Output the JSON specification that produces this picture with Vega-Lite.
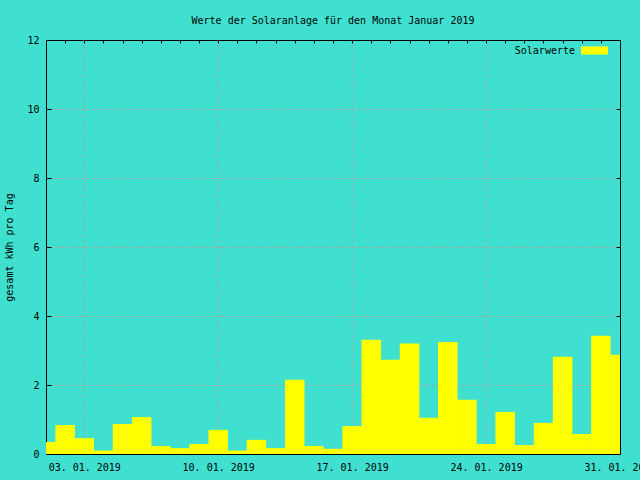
{
  "$schema": "https://vega.github.io/schema/vega-lite/v6.json",
  "width": 574,
  "height": 414,
  "autosize": {"type": "none"},
  "padding": {"left": 46, "top": 40, "right": 20, "bottom": 26},
  "background": "#40e0d0",
  "title": {
    "text": "Werte der Solaranlage für den Monat Januar 2019",
    "font": "DejaVu Sans Mono",
    "fontSize": 10,
    "fontWeight": "normal",
    "color": "black",
    "anchor": "middle",
    "frame": "group",
    "baseline": "bottom",
    "offset": -1
  },
  "config": {
    "view": {"stroke": "black", "strokeWidth": 1, "fill": "#40e0d0"},
    "axis": {
      "labelFont": "DejaVu Sans Mono",
      "labelFontSize": 10,
      "labelColor": "black",
      "titleFont": "DejaVu Sans Mono",
      "titleFontSize": 10,
      "titleFontWeight": "normal",
      "titleColor": "black",
      "domain": false,
      "tickColor": "black",
      "tickWidth": 1,
      "gridColor": "#d08c96",
      "gridDash": [2, 3],
      "gridWidth": 1,
      "gridOpacity": 1
    },
    "legend": {
      "labelFont": "DejaVu Sans Mono",
      "labelFontSize": 10,
      "labelColor": "black"
    }
  },
  "data": {
    "values": [
      {"tag": "2019-01-01", "kwh": 0.35},
      {"tag": "2019-01-02", "kwh": 0.84},
      {"tag": "2019-01-03", "kwh": 0.46},
      {"tag": "2019-01-04", "kwh": 0.10},
      {"tag": "2019-01-05", "kwh": 0.87},
      {"tag": "2019-01-06", "kwh": 1.07},
      {"tag": "2019-01-07", "kwh": 0.23},
      {"tag": "2019-01-08", "kwh": 0.17},
      {"tag": "2019-01-09", "kwh": 0.29},
      {"tag": "2019-01-10", "kwh": 0.70},
      {"tag": "2019-01-11", "kwh": 0.10},
      {"tag": "2019-01-12", "kwh": 0.41},
      {"tag": "2019-01-13", "kwh": 0.17},
      {"tag": "2019-01-14", "kwh": 2.15},
      {"tag": "2019-01-15", "kwh": 0.23},
      {"tag": "2019-01-16", "kwh": 0.15},
      {"tag": "2019-01-17", "kwh": 0.81},
      {"tag": "2019-01-18", "kwh": 3.31},
      {"tag": "2019-01-19", "kwh": 2.73},
      {"tag": "2019-01-20", "kwh": 3.20},
      {"tag": "2019-01-21", "kwh": 1.05},
      {"tag": "2019-01-22", "kwh": 3.25},
      {"tag": "2019-01-23", "kwh": 1.57},
      {"tag": "2019-01-24", "kwh": 0.29},
      {"tag": "2019-01-25", "kwh": 1.22},
      {"tag": "2019-01-26", "kwh": 0.26},
      {"tag": "2019-01-27", "kwh": 0.90},
      {"tag": "2019-01-28", "kwh": 2.82},
      {"tag": "2019-01-29", "kwh": 0.58},
      {"tag": "2019-01-30", "kwh": 3.43},
      {"tag": "2019-01-31", "kwh": 2.88}
    ]
  },
  "resolve": {"axis": {"x": "independent", "y": "independent"}},
  "layer": [
    {
      "mark": {"type": "rule", "opacity": 0},
      "encoding": {
        "x": {
          "field": "tag",
          "type": "temporal",
          "axis": {
            "orient": "bottom",
            "title": null,
            "labels": false,
            "ticks": false,
            "grid": true,
            "translate": 0.24,
            "values": [
              {"year": 2019, "month": 1, "date": 3, "utc": true},
              {"year": 2019, "month": 1, "date": 10, "utc": true},
              {"year": 2019, "month": 1, "date": 17, "utc": true},
              {"year": 2019, "month": 1, "date": 24, "utc": true}
            ]
          }
        },
        "y": {
          "field": "kwh",
          "type": "quantitative",
          "axis": {
            "orient": "left",
            "title": null,
            "labels": false,
            "ticks": false,
            "grid": true,
            "values": [2, 4, 6, 8, 10]
          }
        }
      }
    },
    {
      "mark": {"type": "bar", "width": 19.5, "clip": true, "cornerRadius": 0},
      "encoding": {
        "x": {
          "field": "tag",
          "type": "temporal",
          "scale": {
            "type": "utc",
            "domain": [
              {"year": 2019, "month": 1, "date": 1, "utc": true},
              {"year": 2019, "month": 1, "date": 31, "utc": true}
            ],
            "nice": false,
            "padding": 0
          },
          "axis": {
            "orient": "bottom",
            "title": null,
            "values": [
              {"year": 2019, "month": 1, "date": 3, "utc": true},
              {"year": 2019, "month": 1, "date": 10, "utc": true},
              {"year": 2019, "month": 1, "date": 17, "utc": true},
              {"year": 2019, "month": 1, "date": 24, "utc": true},
              {"year": 2019, "month": 1, "date": 31, "utc": true}
            ],
            "format": "%d. %m. %Y",
            "grid": false,
            "ticks": false,
            "labelPadding": 8,
            "labelFlush": false,
            "labelOverlap": false,
            "labelBound": false
          }
        },
        "y": {
          "field": "kwh",
          "type": "quantitative",
          "scale": {"domain": [0, 12], "nice": false, "zero": true},
          "axis": {
            "orient": "left",
            "title": "gesamt kWh pro Tag",
            "values": [0, 2, 4, 6, 8, 10, 12],
            "grid": false,
            "tickSize": -5,
            "labelPadding": 12,
            "titlePadding": 12,
            "labelFlush": false
          }
        },
        "color": {
          "datum": "Solarwerte",
          "type": "nominal",
          "scale": {"range": ["#ffff00"]},
          "legend": {
            "title": null,
            "orient": "none",
            "legendX": 535,
            "legendY": -3,
            "symbolType": "M-1,-0.3H1V0.3H-1Z",
            "symbolSize": 729,
            "symbolStrokeWidth": 0,
            "symbolOpacity": 1,
            "labelAlign": "right",
            "labelOffset": -33
          }
        }
      }
    },
    {
      "mark": {"type": "rule", "opacity": 0},
      "encoding": {
        "x": {
          "field": "tag",
          "type": "temporal",
          "axis": {
            "orient": "top",
            "title": null,
            "labels": false,
            "grid": false,
            "tickSize": -3,
            "values": [
              {"year": 2019, "month": 1, "date": 2, "utc": true},
              {"year": 2019, "month": 1, "date": 3, "utc": true},
              {"year": 2019, "month": 1, "date": 4, "utc": true},
              {"year": 2019, "month": 1, "date": 5, "utc": true},
              {"year": 2019, "month": 1, "date": 6, "utc": true},
              {"year": 2019, "month": 1, "date": 7, "utc": true},
              {"year": 2019, "month": 1, "date": 8, "utc": true},
              {"year": 2019, "month": 1, "date": 9, "utc": true},
              {"year": 2019, "month": 1, "date": 10, "utc": true},
              {"year": 2019, "month": 1, "date": 11, "utc": true},
              {"year": 2019, "month": 1, "date": 12, "utc": true},
              {"year": 2019, "month": 1, "date": 13, "utc": true},
              {"year": 2019, "month": 1, "date": 14, "utc": true},
              {"year": 2019, "month": 1, "date": 15, "utc": true},
              {"year": 2019, "month": 1, "date": 16, "utc": true},
              {"year": 2019, "month": 1, "date": 17, "utc": true},
              {"year": 2019, "month": 1, "date": 18, "utc": true},
              {"year": 2019, "month": 1, "date": 19, "utc": true},
              {"year": 2019, "month": 1, "date": 20, "utc": true},
              {"year": 2019, "month": 1, "date": 21, "utc": true},
              {"year": 2019, "month": 1, "date": 22, "utc": true},
              {"year": 2019, "month": 1, "date": 23, "utc": true},
              {"year": 2019, "month": 1, "date": 24, "utc": true},
              {"year": 2019, "month": 1, "date": 25, "utc": true},
              {"year": 2019, "month": 1, "date": 26, "utc": true},
              {"year": 2019, "month": 1, "date": 27, "utc": true},
              {"year": 2019, "month": 1, "date": 28, "utc": true},
              {"year": 2019, "month": 1, "date": 29, "utc": true},
              {"year": 2019, "month": 1, "date": 30, "utc": true}
            ]
          }
        },
        "y": {
          "field": "kwh",
          "type": "quantitative",
          "axis": {
            "orient": "right",
            "title": null,
            "labels": false,
            "grid": false,
            "tickSize": -4,
            "values": [2, 4, 6, 8, 10]
          }
        }
      }
    }
  ]
}
